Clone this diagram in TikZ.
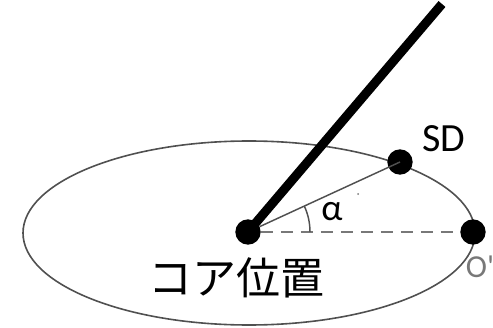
\documentclass[tikz,border=0pt]{standalone}
\usepackage{fontspec}
\setmainfont{Carlito}
\newfontfamily\jpfont{Noto Sans CJK JP}
\usepackage{xcolor}
\usepackage{tikz}
\usetikzlibrary{angles, calc}
\definecolor{rimgray}{RGB}{80,80,80}
\definecolor{dashgray}{RGB}{120,120,120}

\begin{document}
\begin{tikzpicture}[
    x=0.75pt, y=-0.75pt,
    dot/.style   = {circle, fill=black, inner sep=0pt, minimum size=19pt},
    rim/.style   = {draw=rimgray, line width=1.2pt},
    shower/.style = {line width=6.8pt, color=black},
    ray/.style   = {draw=rimgray, line width=1.1pt},
    lbl/.style   = {font=\fontsize{30}{32}\selectfont, text=black},
]
\useasboundingbox (0,0) rectangle (493,328);

% ground plane
\draw[rim] (249,233) ellipse [x radius=226, y radius=92];

\node[dot] (core) at (248,232) {};
\node[dot] (sd)   at (400,162) {};
\node[dot] (orig) at (473,232) {};
\coordinate (top) at (442,4);

\draw[ray] (core) -- (sd.center);
\draw[dashgray, line width=1.6pt, dash pattern=on 9pt off 6pt] (core) -- (orig);
\pic[draw=rimgray, line width=1.1pt, angle radius=46.5pt] {angle = orig--core--sd};
\draw[shower] (core.center) -- (top);

\fill[dashgray] (358,194) circle (1);

\node[lbl] (sdlbl) at (444,139) {SD};
\node[font=\fontsize{28}{30}\selectfont] (alpha) at (332,212) {α};
\node[font=\fontsize{24}{26}\selectfont, text=dashgray] (origlbl) at (480,267) {O\textquotesingle};
\node[font=\jpfont\fontsize{33}{35}\selectfont] (corelbl) at (236,278) {コア位置};
\end{tikzpicture}
\end{document}
